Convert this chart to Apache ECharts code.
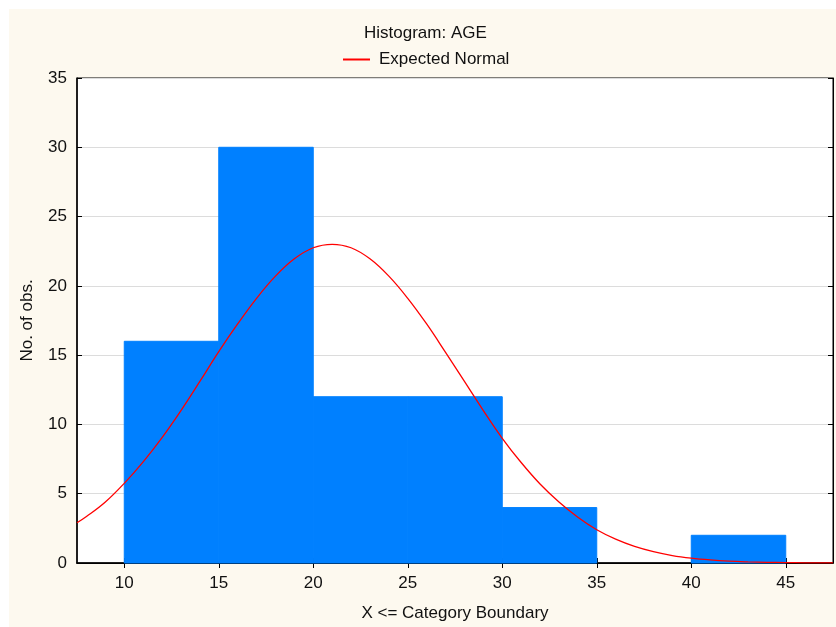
<!DOCTYPE html>
<html>
<head>
<meta charset="utf-8">
<script src="https://cdn.jsdelivr.net/npm/echarts@6/dist/echarts.min.js"></script>
<style>html,body{margin:0;padding:0;background:#fff}#c{width:836px;height:627px}</style>
</head>
<body>
<div id="c"></div>
<script>
// Histogram bins (lower bound, upper bound) and counts
var binLower = [10, 15, 20, 25, 30, 35, 40];
var binUpper = [15, 20, 25, 30, 35, 40, 45];
var counts   = [16, 30, 12, 12, 4, 0, 2];

// Expected normal curve
var curveX = [7.5, 8, 9, 10, 11, 12, 13, 14, 15, 16, 17, 18, 19, 20, 21,
              22, 23, 24, 25, 26, 27, 28, 29, 30, 31, 32, 33, 34, 35,
              36, 37, 38, 39, 40, 41, 42, 43, 44, 45, 46, 47, 47.5];
var curveY = [2.9, 3.35, 4.4, 5.75, 7.3, 9.05, 11.0, 13.1, 15.25, 17.25, 19.1, 20.7, 21.95, 22.75, 23.0,
              22.75, 21.95, 20.7, 19.1, 17.25, 15.2, 13.1, 11.0, 9.0, 7.25, 5.7, 4.4, 3.3, 2.4,
              1.72, 1.2, 0.82, 0.54, 0.35, 0.22, 0.13, 0.08, 0.05, 0.03, 0.015, 0.009, 0.007];

var xTicks = [10, 15, 20, 25, 30, 35, 40, 45];

var titleText = 'Histogram: AGE';
var seriesName = 'Expected Normal';
var xName = 'X <= Category Boundary';
var yName = 'No. of obs.';

var barData = binLower.map(function (l, i) { return [l, binUpper[i], counts[i]]; });
var lineData = curveX.map(function (x, i) { return [x, curveY[i]]; });

var FONT = '"Liberation Sans", Arial, sans-serif';
var chart = echarts.init(document.getElementById('c'), null, {renderer: 'canvas'});
chart.setOption({
  backgroundColor: '#ffffff',
  animation: false,
  graphic: [{
    type: 'rect', z: -10, silent: true,
    shape: {x: 9, y: 9, width: 827, height: 618},
    style: {fill: '#FDF9EF'}
  }],
  title: {
    text: titleText, left: 359, top: 20,
    textStyle: {fontFamily: FONT, fontSize: 17, fontWeight: 'normal', color: '#111'}
  },
  legend: {
    left: 338, top: 46, itemWidth: 27, itemHeight: 2, itemGap: 8, icon: 'rect',
    data: [seriesName],
    textStyle: {fontFamily: FONT, fontSize: 17, color: '#111', padding: [0, 0, 0, 4]}
  },
  grid: {
    left: 77, top: 78, right: 3, bottom: 63,
    show: true, backgroundColor: '#ffffff', borderColor: '#000', borderWidth: 1
  },
  xAxis: [{
    type: 'value', min: 7.5, max: 47.5, interval: 2.5,
    name: xName, nameLocation: 'middle', nameGap: 42,
    nameTextStyle: {fontFamily: FONT, fontSize: 17, color: '#111'},
    axisLine: {show: true, lineStyle: {color: '#000', width: 1.5}},
    axisTick: {show: true, inside: true, length: 5, customValues: xTicks, lineStyle: {color: '#000'}},
    axisLabel: {customValues: xTicks, margin: 12, fontFamily: FONT, fontSize: 17, color: '#111'},
    splitLine: {show: false}
  }, {
    type: 'value', position: 'top', min: 7.5, max: 47.5, interval: 2.5,
    axisLine: {show: true, lineStyle: {color: '#000'}},
    axisTick: {show: true, inside: true, length: 5, customValues: xTicks, lineStyle: {color: '#000'}},
    axisLabel: {show: false},
    splitLine: {show: false}
  }],
  yAxis: [{
    type: 'value', min: 0, max: 35, interval: 5,
    name: yName, nameLocation: 'middle', nameGap: 41, nameRotate: 90,
    nameTextStyle: {fontFamily: FONT, fontSize: 17, color: '#111'},
    axisLine: {show: true, lineStyle: {color: '#000', width: 1.5}},
    axisTick: {show: true, inside: true, length: 5, lineStyle: {color: '#000'}},
    axisLabel: {margin: 10, fontFamily: FONT, fontSize: 17, color: '#111'},
    splitLine: {show: true, lineStyle: {color: '#DCDCDC', width: 1}}
  }, {
    type: 'value', position: 'right', min: 0, max: 35, interval: 5,
    axisLine: {show: true, lineStyle: {color: '#000'}},
    axisTick: {show: true, inside: true, length: 5, lineStyle: {color: '#000'}},
    axisLabel: {show: false},
    splitLine: {show: false}
  }],
  series: [{
    type: 'custom', name: 'AGE', xAxisIndex: 0, yAxisIndex: 0,
    encode: {x: [0, 1], y: 2},
    data: barData,
    renderItem: function (params, api) {
      if (api.value(2) <= 0) { return null; }
      var p1 = api.coord([api.value(0), api.value(2)]);
      var p2 = api.coord([api.value(1), 0]);
      return {
        type: 'rect',
        shape: {x: p1[0], y: p1[1], width: p2[0] - p1[0], height: p2[1] - p1[1]},
        style: {fill: '#0080FF', stroke: '#0080FF', lineWidth: 1}
      };
    },
    z: 2
  }, {
    type: 'line', name: seriesName, xAxisIndex: 0, yAxisIndex: 0,
    data: lineData, smooth: 0.4, symbol: 'none', clip: true,
    lineStyle: {color: '#FF0000', width: 1.3},
    itemStyle: {color: '#FF0000'},
    z: 3
  }]
});
</script>
</body>
</html>
